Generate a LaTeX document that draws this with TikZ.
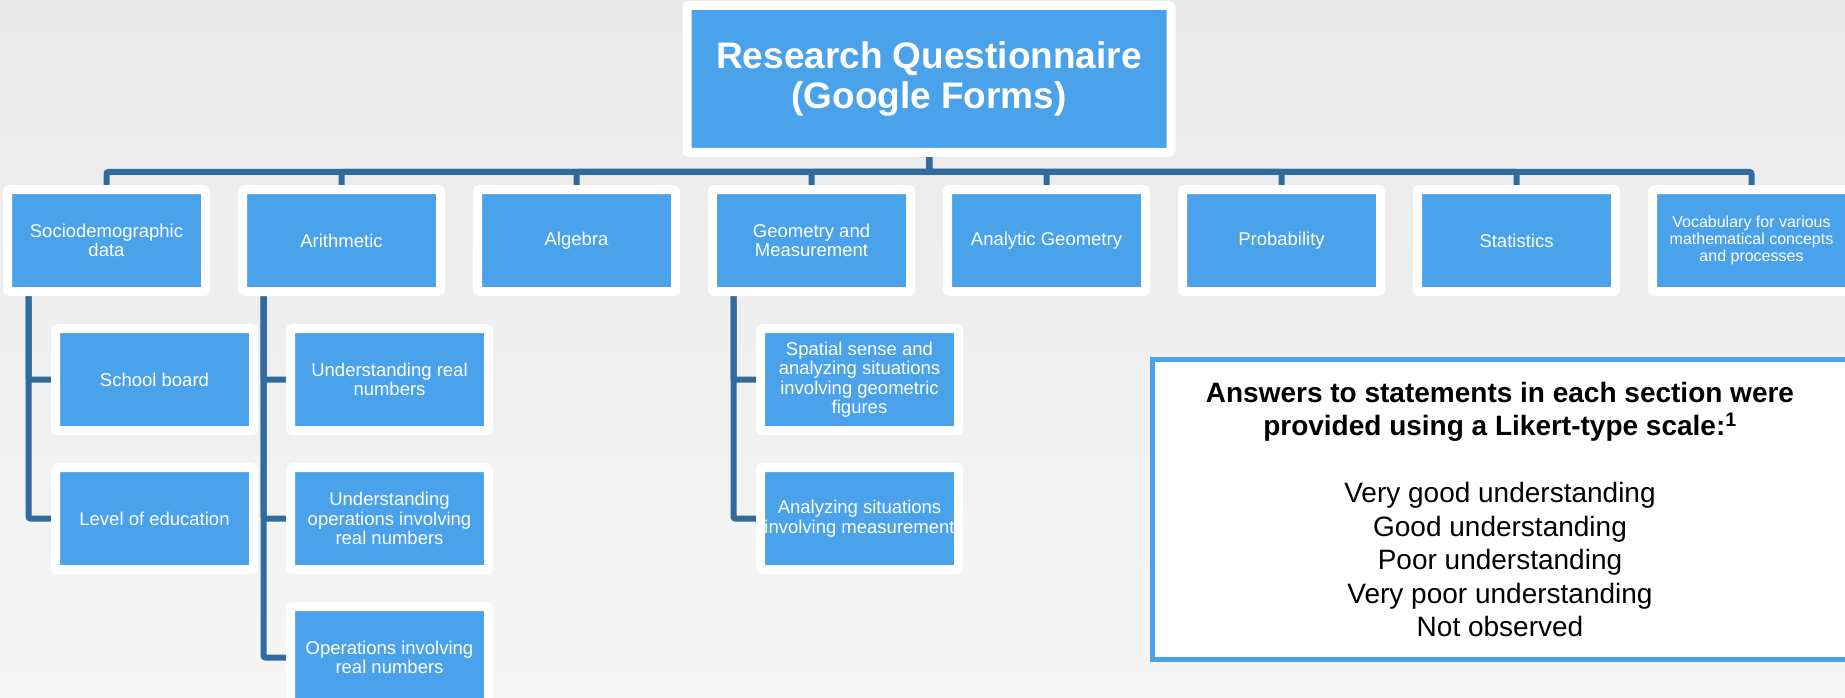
\documentclass[tikz,border=0pt]{standalone}
\usepackage{fontspec}
\setmainfont{Liberation Sans}
\definecolor{boxBlue}{RGB}{74, 162, 234}
\definecolor{linkBlue}{RGB}{47, 107, 158}
\definecolor{bgGray}{RGB}{233, 233, 233}
\definecolor{bgLight}{RGB}{246, 246, 246}
\usepackage{tikz}
\usetikzlibrary{positioning, calc, backgrounds}

\begin{document}
\begin{tikzpicture}[
    x=1pt, y=1pt,
    node distance=37pt,
    box/.style={rectangle, fill=boxBlue, draw=white, line width=9pt,
                outer sep=0pt, rounded corners=2pt,
                minimum width=198pt, minimum height=102pt, align=center,
                text=white, font=\fontsize{18.5}{19.5}\selectfont},
    legend/.style={rectangle, fill=white, draw=boxBlue, line width=5pt,
                   minimum width=696pt, minimum height=300pt, align=center,
                   font=\fontsize{28}{33.5}\selectfont},
    link/.style={draw=linkBlue, line width=6pt, rounded corners=2pt},
  ]
    \useasboundingbox (0,0) rectangle (1845,-698);

    \node[box] (SOC) at (106.5,-240.5) {Sociodemographic\\data};
    \node[box, right=of SOC] (ARI) {Arithmetic};
    \node[box, right=of ARI] (ALG) {Algebra};
    \node[box, right=of ALG] (GEO) {Geometry and\\Measurement};
    \node[box, right=of GEO] (ANA) {Analytic Geometry};
    \node[box, right=of ANA] (PRO) {Probability};
    \node[box, right=of PRO] (STA) {Statistics};
    \node[box, right=of STA, font=\fontsize{16}{17}\selectfont] (VOC)
      {Vocabulary for various\\mathematical concepts\\and processes};

    \coordinate (TOP) at ($(GEO.north)!0.5!(ANA.north)$);
    \node[box, above=of TOP, minimum width=484pt, minimum height=147pt,
          font=\bfseries\fontsize{37}{40}\selectfont] (RQ)
      {Research Questionnaire\\(Google Forms)};

    \node[box, below=of SOC, xshift=48pt] (SCH) {School board};
    \node[box, below=of SCH] (EDU) {Level of education};
    \node[box, below=of ARI, xshift=48pt] (URN) {Understanding real\\numbers};
    \node[box, below=of URN] (UOP) {Understanding\\operations involving\\real numbers};
    \node[box, below=of UOP] (OPS) {Operations involving\\real numbers};
    \node[box, below=of GEO, xshift=48pt] (SPA)
      {Spatial sense and\\analyzing situations\\involving geometric\\figures};
    \node[box, below=of SPA] (MEA) {Analyzing situations\\involving measurement};

    \node[legend] (LIK) at (1500,-509.5)
      {\textbf{Answers to statements in each section were}\\
       \textbf{provided using a Likert-type scale:\textsuperscript{1}}\\[33.5pt]
       Very good understanding\\
       Good understanding\\
       Poor understanding\\
       Very poor understanding\\
       Not observed};

    \begin{scope}[on background layer]
      \shade[top color=bgGray, bottom color=bgLight] (0,0) rectangle (1845,-698);
      \foreach \n in {SOC,ARI,ALG,GEO,ANA,PRO,STA,VOC}
        \draw[link] (RQ.south) -- ++(0,-19.5) -| (\n.north);
      \foreach \p/\c in {SOC/SCH,SOC/EDU,ARI/URN,ARI/UOP,ARI/OPS,GEO/SPA,GEO/MEA}
        \draw[link] ([xshift=21pt]\p.south west) |- (\c.west);
    \end{scope}
  \end{tikzpicture}
\end{document}
